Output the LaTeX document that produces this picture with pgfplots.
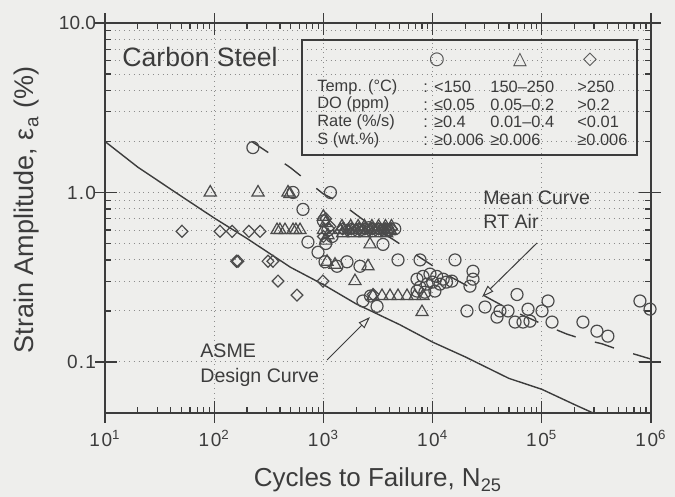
\documentclass[border=0pt]{standalone}
\usepackage{pgfplots}
\pgfplotsset{compat=1.18}
\usepackage{fontspec}
\setmainfont{Liberation Sans}
\newfontfamily\dejavu{DejaVu Sans}
\usetikzlibrary{arrows.meta}
\definecolor{bg}{RGB}{238,238,236}
\definecolor{ink}{RGB}{60,60,60}
\definecolor{mk}{RGB}{75,75,75}
\definecolor{gridc}{RGB}{140,140,140}
\begin{document}
\begin{tikzpicture}
\path[use as bounding box, fill=bg] (-52.5pt,-42pt) rectangle (285pt,206.5pt);
\begin{axis}[
  at={(0pt,0pt)}, anchor=south west,
  scale only axis, width=273pt, height=195pt,
  xmode=log, ymode=log,
  xmin=10, xmax=1e6, ymin=0.05, ymax=10,
  clip=false,
  axis line style={ink, line width=0.9pt},
  tick style={ink, line width=0.6pt},
  tick align=inside,
  major tick length=6pt, minor tick length=3pt,
  xtick={10,100,1000,10000,100000,1000000},
  xticklabels={1\kern0.8pt0\textsuperscript{1},1\kern0.8pt0\textsuperscript{2},1\kern0.8pt0\textsuperscript{3},1\kern0.8pt0\textsuperscript{4},1\kern0.8pt0\textsuperscript{5},1\kern0.8pt0\textsuperscript{6}},
  ytick={0.1,1,10}, yticklabels={0\kern0.6pt.\kern0.6pt1,1\kern0.6pt.\kern0.6pt0,10.0},
  extra x ticks={10,100,1000,10000,100000,1000000},
  extra x tick labels={},
  extra y ticks={0.1,1,10},
  extra y tick labels={},
  extra tick style={tick align=outside, major tick length=5pt, grid=none},
  xmajorgrids, ymajorgrids, yminorgrids,
  major grid style={gridc, dotted, line width=0.5pt},
  minor grid style={gridc, dotted, line width=0.5pt},
  ticklabel style={ink, font=\fontsize{9.5}{10}\selectfont},
  xticklabel style={yshift=-5pt},
  yticklabel style={xshift=-1pt},
]
% ASME design curve
\addplot[ink, line width=0.7pt] coordinates {
 (10,2.0) (20,1.41) (50,0.95) (100,0.707) (200,0.535) (500,0.362) (1000,0.286)
 (2000,0.22) (5000,0.166) (10000,0.131) (20000,0.107) (50000,0.08) (100000,0.069)
 (200000,0.056) (295000,0.05)};
% Mean curve RT air
\addplot[ink, line width=0.7pt, dash pattern=on 10pt off 10pt] coordinates {
 (220,2.0) (335,1.67) (500,1.40) (720,1.16) (1000,0.98) (1420,0.873) (2000,0.74)
 (3000,0.61) (4340,0.529) (6480,0.444) (10000,0.37) (15000,0.315) (20000,0.285)
 (30000,0.245) (50000,0.205) (100000,0.168) (170000,0.146) (240000,0.136)
 (356000,0.128) (490000,0.119) (713000,0.111) (1000000,0.104)};
% circles
\addplot[only marks, mark=o, mark size=3pt, mk, line width=0.6pt] coordinates {
 (226,1.84) (527,1.0) (1160,1.0) (650,0.795) (722,0.51) (893,0.444) (1035,0.39)
 (1333,0.367) (1644,0.39) (2163,0.367) (3514,0.494) (4500,0.61)
 (4822,0.40) (7674,0.40) (16040,0.40)
 (23440,0.343) (23440,0.308) (21990,0.28) (20650,0.2) (30200,0.211) (38880,0.184)
 (41400,0.2) (49060,0.2) (59300,0.25) (56890,0.172) (67300,0.172) (78000,0.174)
 (74800,0.205) (100500,0.2) (114000,0.229) (124000,0.172) (238000,0.172)
 (320000,0.152) (403000,0.142) (792000,0.229) (980000,0.205)
 (7200,0.308) (8170,0.32) (9460,0.33) (10900,0.32) (12500,0.308) (15000,0.30)
 (7670,0.276) (8900,0.288) (10000,0.296) (11700,0.288) (13400,0.296)
 (7200,0.262) (8500,0.258) (10500,0.262)
 (2300,0.229) (2700,0.245) (3100,0.213)
 (1000,0.68) (1100,0.6) (1050,0.5) (1200,0.55) (2600,0.62) (3900,0.6)};
% triangles
\addplot[only marks, mark=triangle, mark size=3.5pt, mk, line width=0.6pt] coordinates {
 (92,1.0) (252,1.0) (474,1.0) (494,0.98)
 (376,0.6) (400,0.6) (445,0.6) (527,0.6) (560,0.6) (611,0.6)
 (1080,0.39) (1277,0.375) (2561,0.367) (1946,0.30) (2672,0.494)
 (2846,0.245) (3441,0.245) (4074,0.245) (4822,0.245) (5833,0.245) (6905,0.245) (8170,0.245)
 (8000,0.197)
 (1000,0.72) (1050,0.66) (1000,0.6) (1100,0.56) (1050,0.52)
 (1420,0.6) (1550,0.6) (1700,0.6) (1850,0.6) (2000,0.6) (2150,0.6) (2300,0.6)
 (2500,0.6) (2700,0.6) (2900,0.6) (3100,0.6) (3350,0.6) (3600,0.6) (3850,0.6) (4100,0.6)
 (1480,0.63) (1780,0.63) (2080,0.63) (2380,0.63) (2780,0.63) (3200,0.63) (3700,0.63) (4200,0.63)
 (1500,0.575) (1900,0.575) (2400,0.575) (3000,0.575) (3800,0.575)};
% diamonds
\addplot[only marks, mark=diamond, mark size=3pt, mark options={xscale=1.3}, mk, line width=0.6pt] coordinates {
 (50.7,0.59) (113,0.59) (146,0.59) (208,0.59) (263,0.59)
 (160,0.393) (165,0.393) (311,0.393) (345,0.393) (384,0.30) (573,0.248) (991,0.30)
 (1050,0.7) (1150,0.63) (1000,0.55)
 (1500,0.61) (1800,0.61) (2100,0.61) (2400,0.61) (2800,0.61) (3200,0.61) (3700,0.61) (4200,0.61)
 (1650,0.6) (1950,0.6) (2250,0.6) (2600,0.6) (3000,0.6) (3450,0.6) (3950,0.6)
 (2850,0.25)};
\end{axis}
% labels
\node[ink, font=\fontsize{13}{14}\selectfont] at (136.5pt,-33.5pt) {Cycles to Failure, N\textsubscript{25}};
\node[ink, rotate=90, font=\fontsize{13.5}{14}\selectfont] at (-39pt,101.5pt) {Strain Amplitude, ε\textsubscript{a} (\%)};
\node[ink, anchor=west, inner sep=0pt, font=\fontsize{13.3}{13}\selectfont] at (8.5pt,178pt) {Carbon Steel};
% legend box
\draw[ink, line width=0.6pt] (98.5pt,129pt) rectangle (266pt,186.5pt);
\node[mk, font=\dejavu\fontsize{9}{9}\selectfont] at (166pt,176.5pt) {○};
\node[mk, font=\dejavu\fontsize{9}{9}\selectfont] at (207.5pt,176.5pt) {△};
\node[mk, font=\dejavu\fontsize{9}{9}\selectfont] at (242.5pt,176.5pt) {◇};
\node[ink, anchor=west, align=left, inner sep=0pt, font=\fontsize{8.2}{8.8}\selectfont] at (106pt,149.75pt) {Temp. (°C)\\DO (ppm)\\Rate (\%/s)\\S (wt.\%)};
\node[ink, anchor=west, align=left, inner sep=0pt, font=\fontsize{8.2}{8.8}\selectfont] at (159pt,149.75pt) {: <150\\: ≤0.05\\: ≥0.4\\: ≥0.006};
\node[ink, anchor=west, align=left, inner sep=0pt, font=\fontsize{8.2}{8.8}\selectfont] at (192.5pt,149.75pt) {150–250\\0.05–0.2\\0.01–0.4\\≥0.006};
\node[ink, anchor=west, align=left, inner sep=0pt, font=\fontsize{8.2}{8.8}\selectfont] at (236pt,149.75pt) {>250\\>0.2\\<0.01\\≥0.006};
% annotations
\node[ink, anchor=west, align=left, inner sep=0pt, font=\fontsize{9.8}{12}\selectfont] at (189pt,101.5pt) {Mean Curve\\RT Air};
\node[ink, anchor=west, align=left, inner sep=0pt, font=\fontsize{9.8}{12.5}\selectfont] at (47.5pt,23.75pt) {ASME\\Design Curve};
\draw[ink, line width=0.5pt, -{Triangle[open,length=6pt,width=4pt]}] (111pt,26.5pt) -- (132.5pt,48pt);
\draw[ink, line width=0.5pt, -{Triangle[open,length=6pt,width=4pt]}] (216pt,85pt) -- (188.5pt,58pt);
\end{tikzpicture}
\end{document}
